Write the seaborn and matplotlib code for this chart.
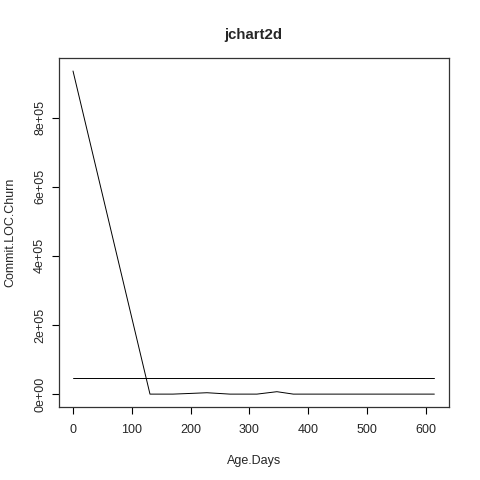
import matplotlib

matplotlib.use("Agg")
import matplotlib.pyplot as plt
import pandas as pd
import seaborn as sns

# data
age_days = [0, 131, 170, 200, 228, 267, 313, 347, 375, 615]
loc_churn = [935000, 0, 0, 2000, 4000, 0, 0, 7000, 0, 0]
ref_days = [0, 615]
ref_churn = [45500, 45500]

x_ticks = [0, 100, 200, 300, 400, 500, 600]
y_ticks = [0, 200000, 400000, 600000, 800000]
y_tick_labels = ["0e+00", "2e+05", "4e+05", "6e+05", "8e+05"]

sns.set_style("white")
plt.rcParams["font.family"] = ["Liberation Sans", "DejaVu Sans"]

df = pd.DataFrame({"Age.Days": age_days, "Commit.LOC.Churn": loc_churn})
df_ref = pd.DataFrame({"Age.Days": ref_days, "Commit.LOC.Churn": ref_churn})

fig = plt.figure(figsize=(4.8, 4.8), dpi=100)
ax = fig.add_axes([0.122, 0.152, 0.813, 0.727])

sns.lineplot(data=df, x="Age.Days", y="Commit.LOC.Churn", color="black",
             linewidth=0.7, sort=False, ax=ax)
sns.lineplot(data=df_ref, x="Age.Days", y="Commit.LOC.Churn", color="black",
             linewidth=0.7, ax=ax)

# R-style 4% padding
xr = max(age_days) - min(age_days)
yr = max(loc_churn) - min(loc_churn)
ax.set_xlim(min(age_days) - 0.04 * xr, max(age_days) + 0.04 * xr)
ax.set_ylim(min(loc_churn) - 0.04 * yr, max(loc_churn) + 0.04 * yr)

ax.set_xticks(x_ticks)
ax.set_xticklabels([str(v) for v in x_ticks])
ax.set_yticks(y_ticks)
ax.set_yticklabels(y_tick_labels, rotation=90, va="center")
ax.tick_params(axis="both", direction="out", length=5, width=0.8,
               labelsize=9, color="black", bottom=True, left=True)
ax.tick_params(axis="x", pad=7)
ax.tick_params(axis="y", pad=4)

for s in ax.spines.values():
    s.set_color("#333333")
    s.set_linewidth(0.9)

ax.set_xlabel("Age.Days", fontsize=9, labelpad=14)
ax.set_ylabel("Commit.LOC.Churn", fontsize=9, labelpad=13)
ax.set_title("jchart2d", fontsize=10.8, fontweight="bold", pad=14)

plt.savefig("out.png", dpi=100)
plt.close()
